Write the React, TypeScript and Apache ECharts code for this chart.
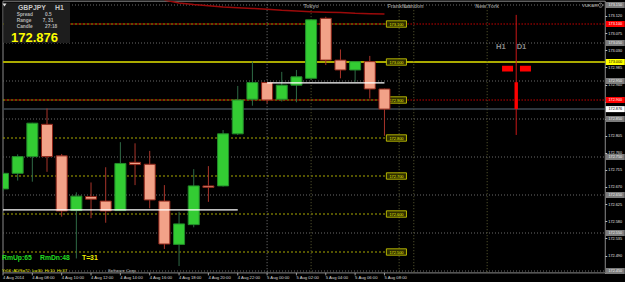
import React, { useEffect, useRef } from "react";
import * as echarts from "echarts";

const FONT = '"Liberation Sans", Arial, sans-serif';

// ---- data ----
const times = [
  "4 Aug 06:00", "4 Aug 07:00", "4 Aug 08:00", "4 Aug 09:00", "4 Aug 10:00", "4 Aug 11:00",
  "4 Aug 12:00", "4 Aug 13:00", "4 Aug 14:00", "4 Aug 15:00", "4 Aug 16:00", "4 Aug 17:00",
  "4 Aug 18:00", "4 Aug 19:00", "4 Aug 20:00", "4 Aug 21:00", "4 Aug 22:00", "4 Aug 23:00",
  "5 Aug 00:00", "5 Aug 01:00", "5 Aug 02:00", "5 Aug 03:00", "5 Aug 04:00", "5 Aug 05:00",
  "5 Aug 06:00", "5 Aug 07:00", "5 Aug 08:00",
];
const xTickLabels = [
  "4 Aug 2014", "4 Aug 08:00", "4 Aug 10:00", "4 Aug 12:00", "4 Aug 14:00", "4 Aug 16:00",
  "4 Aug 18:00", "4 Aug 20:00", "4 Aug 22:00", "5 Aug 00:00", "5 Aug 02:00", "5 Aug 04:00",
  "5 Aug 06:00", "5 Aug 08:00",
];
const opens = [
  172.666, 172.707, 172.751, 172.836, 172.753, 172.609, 172.646, 172.634, 172.609, 172.736,
  172.731, 172.634, 172.52, 172.572, 172.674, 172.674, 172.811, 172.902, 172.946, 172.902,
  172.939, 172.957, 173.115, 173.005, 172.979, 173.001, 172.929,
];
const closes = [
  172.707, 172.751, 172.839, 172.751, 172.608, 172.647, 172.639, 172.608, 172.733, 172.73,
  172.637, 172.521, 172.574, 172.674, 172.672, 172.811, 172.9, 172.946, 172.9, 172.939,
  172.961, 173.111, 173.005, 172.979, 173.001, 172.929, 172.876,
];
const highs = [
  172.71, 172.757, 172.84, 172.878, 172.758, 172.657, 172.683, 172.723, 172.789, 172.786,
  172.766, 172.676, 172.606, 172.718, 172.726, 172.821, 172.937, 173.001, 172.947, 172.974,
  172.979, 173.112, 173.119, 173.033, 173.002, 173.016, 172.93,
];
const lows = [
  172.66, 172.688, 172.685, 172.711, 172.593, 172.483, 172.589, 172.577, 172.608, 172.676,
  172.615, 172.508, 172.463, 172.565, 172.632, 172.672, 172.808, 172.885, 172.891, 172.896,
  172.894, 172.953, 172.992, 172.957, 172.948, 172.904, 172.806,
];
const maIndex = [11, 12, 13, 14, 15, 16, 17, 18, 19, 20, 21, 22, 23, 24, 25, 26];
const maValues = [
  173.163, 173.155, 173.151, 173.148, 173.145, 173.143, 173.141, 173.139, 173.136, 173.134,
  173.132, 173.131, 173.13, 173.128, 173.127, 173.126,
];
const gridLevels = [173.15, 173.05, 172.95, 172.85, 172.75, 172.65, 172.55, 172.45];
const roundLevels = [173.1, 173.0, 172.9, 172.8, 172.7, 172.6, 172.5];
const redLevels = [173.1, 172.9];
const keyLevel = 173.0;
const bidPrice = 172.876;
const rangeFrom = [0, 18];
const rangeTo = [16, 26];
const rangePrice = [172.611, 172.945];
const sessionNames = ["Tokyo", "Frankfurt", "London", "New York"];
const sessionIndex = [21, 27, 28, 33];
const daySeparator = 18;
const tfLabels = ["H1", "D1"];
const tfLabelIndex = [33.93, 35.34];
const tfLabelPrice = 173.04;
const tfBoxIndex = [34.39, 35.61];
const tfBoxTop = [172.99, 172.99];
const tfBoxBottom = [172.975, 172.975];
const tfLine = [34.98, 173.124, 172.808];
const tfBar = [34.98, 172.947, 172.876];

const yMin = 172.445;
const yMax = 173.16;
const axisStep = 0.045;
const xMax = 41.05;
const labelEvery = 2;
const roundBoxFrom = 26.13;
const roundBoxTo = 27.5;

function buildOption() {
  const candles = times.map((_, i) => [i, opens[i], closes[i], lows[i], highs[i]]);
  const rightBox = (right: number, y: number, text: string, fill: string, color: string) => [
    { type: "rect", shape: { x: right + 0.5, y: y - 3, width: 19, height: 6 }, style: { fill } },
    {
      type: "text",
      x: right + 10,
      y: y + 0.2,
      style: { text, fill: color, fontSize: 3.8, fontFamily: FONT, align: "center", verticalAlign: "middle" },
    },
  ];

  const txt = (x: number, y: number, text: string, size: number, color: string, weight = "bold", align = "left") => ({
    type: "text",
    x,
    y,
    z: 20,
    style: { text, fill: color, fontSize: size, fontWeight: weight, fontFamily: FONT, align, verticalAlign: "middle" },
  });

  return {
    animation: false,
    backgroundColor: "#000000",
    grid: {
      left: 1.3,
      right: 19.5,
      top: 1.2,
      bottom: 9.1,
      show: true,
      borderColor: "#8a8a8a",
      borderWidth: 1,
      backgroundColor: "transparent",
      containLabel: false,
    },
    xAxis: {
      type: "value",
      min: 0,
      max: xMax,
      interval: labelEvery,
      axisLine: { show: false },
      axisTick: { show: false },
      splitLine: { show: false },
      axisLabel: {
        formatter: (v: number) => xTickLabels[Math.round(v / labelEvery)] ?? "",
        align: "left",
        fontSize: 4.2,
        color: "#d8d8d8",
        fontFamily: FONT,
        margin: 2.5,
        showMaxLabel: false,
      },
    },
    yAxis: [
      { type: "value", min: yMin, max: yMax, show: false, scale: true },
      {
        type: "value",
        min: 0,
        max: yMax - yMin,
        interval: axisStep,
        position: "right",
        axisLine: { show: false },
        axisTick: { show: true, length: 2, lineStyle: { color: "#bbbbbb" } },
        splitLine: { show: false },
        axisLabel: {
          formatter: (v: number) => (yMin + v).toFixed(3),
          fontSize: 3.8,
          color: "#e4e4e4",
          margin: 3,
          fontFamily: FONT,
          showMaxLabel: false,
        },
      },
    ],
    graphic: [
      { type: "rect", x: 3.5, y: 2.5, z: 15, shape: { width: 66.5, height: 40.5 }, style: { fill: "#1d1d1d" } },
      { type: "polygon", z: 20, shape: { points: [[2.5, 3.5], [6.5, 3.5], [4.5, 6.5]] }, style: { fill: "#e0e0e0" } },
      txt(18, 7.8, "GBPJPY", 6.9, "#c8c8c8"),
      txt(55, 7.8, "H1", 6.9, "#c8c8c8"),
      txt(16.7, 14.3, "Spread", 4.8, "#b4b4b4"),
      txt(45, 14.3, "0.5", 4.8, "#b4b4b4"),
      txt(16.7, 20.3, "Range", 4.8, "#b4b4b4"),
      txt(42.7, 20.3, "7, 31", 4.8, "#b4b4b4"),
      txt(16.7, 26.3, "Candle", 4.8, "#b4b4b4"),
      txt(45, 26.3, "27:18", 4.8, "#b4b4b4"),
      txt(11, 37.2, "172.876", 13, "#ffff00"),
      txt(582, 5.2, "VUKAR", 4.4, "#9a9a9a"),
      { type: "circle", z: 20, shape: { cx: 600.5, cy: 5.2, r: 2 }, style: { fill: "none", stroke: "#aaaaaa", lineWidth: 0.8 } },
      txt(2, 257.3, "RmUp:65", 6.8, "#22dd22"),
      txt(40, 257.3, "RmDn:48", 6.8, "#22dd22"),
      txt(82, 257.3, "T=31", 6.8, "#f0f000"),
      txt(2, 270, "Yr56  ADR=72  Lw30  Hi:10  Hi:37", 4.3, "#e8e800", "normal"),
      txt(108, 270, "Software Corp.", 4.3, "#c0c0c0", "normal"),
    ],
    series: [
      {
        name: "gridLevels",
        type: "custom",
        coordinateSystem: "cartesian2d",
        z: 1,
        clip: false,
        encode: { x: 0, y: 1 },
        data: gridLevels.map((p) => [0, p]),
        renderItem: (params: any, api: any) => {
          const cs = params.coordSys;
          const p = api.value(1);
          const y = api.coord([0, p])[1];
          const right = cs.x + cs.width;
          return {
            type: "group",
            children: [
              { type: "line", shape: { x1: cs.x, y1: y, x2: right, y2: y }, style: { stroke: "#6a6a6a", lineWidth: 1, lineDash: [1, 2] } },
              ...rightBox(right, y, p.toFixed(3), "#7c7c7c", "#f2f2f2"),
            ],
          };
        },
      },
      {
        name: "redLevels",
        type: "custom",
        coordinateSystem: "cartesian2d",
        z: 1,
        clip: false,
        encode: { x: 0, y: 1 },
        data: redLevels.map((p) => [0, p]),
        renderItem: (params: any, api: any) => {
          const cs = params.coordSys;
          const p = api.value(1);
          const y = api.coord([0, p])[1];
          const right = cs.x + cs.width;
          const xa = api.coord([roundBoxFrom, p])[0];
          const xb = api.coord([roundBoxTo, p])[0];
          return {
            type: "group",
            children: [
              { type: "line", shape: { x1: cs.x, y1: y, x2: xa, y2: y }, style: { stroke: "#d00000", lineWidth: 1, lineDash: [2, 2], lineDashOffset: 2 } },
              { type: "line", shape: { x1: xb + 1, y1: y, x2: right, y2: y }, style: { stroke: "#c80000", lineWidth: 1, lineDash: [1.5, 1.5] } },
              ...rightBox(right, y, p.toFixed(3), "#ff0000", "#ffffff"),
            ],
          };
        },
      },
      {
        name: "roundLevels",
        type: "custom",
        coordinateSystem: "cartesian2d",
        z: 1,
        clip: false,
        encode: { x: 0, y: 1 },
        data: roundLevels.map((p) => [0, p]),
        renderItem: (params: any, api: any) => {
          const cs = params.coordSys;
          const p = api.value(1);
          const y = api.coord([0, p])[1];
          const xa = api.coord([roundBoxFrom, p])[0];
          const xb = api.coord([roundBoxTo, p])[0];
          return {
            type: "group",
            children: [
              { type: "line", shape: { x1: cs.x, y1: y, x2: xa, y2: y }, style: { stroke: "#a8a800", lineWidth: 1, lineDash: [2, 2] } },
              { type: "rect", z2: 5, shape: { x: xa, y: y - 3.2, width: xb - xa, height: 6.4 }, style: { fill: "#2e2e00", stroke: "#d8d800", lineWidth: 0.8 } },
              {
                type: "text",
                z2: 6,
                x: (xa + xb) / 2,
                y: y + 0.2,
                style: { text: p.toFixed(3), fill: "#e8e800", fontSize: 3.9, fontFamily: FONT, align: "center", verticalAlign: "middle" },
              },
            ],
          };
        },
      },
      {
        name: "keyLevels",
        type: "custom",
        coordinateSystem: "cartesian2d",
        z: 1,
        clip: false,
        encode: { x: 0, y: 1 },
        data: [
          [0, keyLevel, 0],
          [0, bidPrice, 1],
        ],
        renderItem: (params: any, api: any) => {
          const cs = params.coordSys;
          const p = api.value(1);
          const kind = api.value(2);
          const y = api.coord([0, p])[1];
          const right = cs.x + cs.width;
          const line =
            kind === 0
              ? { type: "line", shape: { x1: cs.x, y1: y, x2: right, y2: y }, style: { stroke: "#aaaa00", lineWidth: 2 } }
              : { type: "line", shape: { x1: cs.x, y1: y, x2: right, y2: y }, style: { stroke: "#3e4852", lineWidth: 1.5 } };
          return {
            type: "group",
            children: [line, ...rightBox(right, y, p.toFixed(3), kind === 0 ? "#ffff00" : "#ffffff", "#000000")],
          };
        },
      },
      {
        name: "sessions",
        type: "custom",
        coordinateSystem: "cartesian2d",
        z: 1,
        clip: false,
        encode: { x: 0, y: 1 },
        data: [...sessionIndex.map((idx, k) => [idx, yMax, k]), [daySeparator, yMax, -1]],
        renderItem: (params: any, api: any) => {
          const cs = params.coordSys;
          const idx = api.value(0);
          const k = api.value(2);
          const x = api.coord([idx, yMax])[0];
          const children: any[] = [
            {
              type: "line",
              shape: { x1: x, y1: cs.y, x2: x, y2: cs.y + cs.height },
              style: { stroke: k < 0 ? "#7a7a7a" : "#5e5e34", lineWidth: 1, lineDash: [1, 2] },
            },
          ];
          if (k >= 0) {
            children.push({
              type: "text",
              x,
              y: cs.y + 5,
              z2: 10,
              style: { text: sessionNames[k], fill: "#8c8c8c", fontSize: 5.3, fontWeight: "bold", fontFamily: FONT, align: "center", verticalAlign: "middle" },
            });
          }
          return { type: "group", children };
        },
      },
      {
        name: "ticks",
        type: "custom",
        coordinateSystem: "cartesian2d",
        z: 1,
        clip: false,
        encode: { x: 0, y: 1 },
        data: xTickLabels.map((_, k) => [k * labelEvery, yMin]),
        renderItem: (params: any, api: any) => {
          const p = api.coord([api.value(0), yMin]);
          return { type: "line", shape: { x1: p[0], y1: p[1], x2: p[0], y2: p[1] + 2.5 }, style: { stroke: "#bbbbbb", lineWidth: 0.8 } };
        },
      },
      {
        name: "MA",
        type: "line",
        z: 3,
        showSymbol: false,
        clip: true,
        data: maIndex.map((i, k) => [i, maValues[k]]),
        lineStyle: { color: "#9c0a0a", width: 1.5 },
      },
      {
        name: "GBPJPY H1",
        type: "custom",
        coordinateSystem: "cartesian2d",
        z: 3,
        clip: true,
        encode: { x: 0, y: [1, 2, 3, 4] },
        data: candles,
        renderItem: (params: any, api: any) => {
          const i = api.value(0);
          const o = api.value(1);
          const c = api.value(2);
          const l = api.value(3);
          const h = api.value(4);
          const pO = api.coord([i, o]);
          const x = pO[0];
          const yC = api.coord([i, c])[1];
          const yL = api.coord([i, l])[1];
          const yH = api.coord([i, h])[1];
          const w = api.size([1, 0])[0] * 0.75;
          const up = c >= o;
          const top = Math.min(pO[1], yC);
          const bot = Math.max(pO[1], yC);
          const hgt = Math.max(bot - top, 1.5);
          return {
            type: "group",
            children: [
              { type: "line", shape: { x1: x, y1: yH, x2: x, y2: yL }, style: { stroke: up ? "#2f6b46" : "#a8342a", lineWidth: 1 } },
              {
                type: "rect",
                shape: { x: x - w / 2, y: top, width: w, height: hgt },
                style: { fill: up ? "#33cc33" : "#f2a288", stroke: up ? "#238a2a" : "#8e2418", lineWidth: 1 },
              },
            ],
          };
        },
      },
      {
        name: "ranges",
        type: "custom",
        coordinateSystem: "cartesian2d",
        z: 4,
        clip: true,
        encode: { x: [0, 1], y: 2 },
        data: rangeFrom.map((f, k) => [f, rangeTo[k], rangePrice[k]]),
        renderItem: (params: any, api: any) => {
          const a = api.coord([api.value(0), api.value(2)]);
          const b = api.coord([api.value(1), api.value(2)]);
          return { type: "line", shape: { x1: a[0], y1: a[1], x2: b[0], y2: b[1] }, style: { stroke: "#ffffff", lineWidth: 1.3 } };
        },
      },
      {
        name: "tfMarks",
        type: "custom",
        coordinateSystem: "cartesian2d",
        z: 3,
        clip: true,
        encode: { x: 0, y: [1, 2] },
        data: [
          [tfLine[0], tfLine[1], tfLine[2], 0],
          ...tfBoxIndex.map((idx, k) => [idx, tfBoxTop[k], tfBoxBottom[k], 1]),
          [tfBar[0], tfBar[1], tfBar[2], 2],
        ],
        renderItem: (params: any, api: any) => {
          const kind = api.value(3);
          const a = api.coord([api.value(0), api.value(1)]);
          const b = api.coord([api.value(0), api.value(2)]);
          if (kind === 0) {
            return { type: "line", shape: { x1: a[0], y1: a[1], x2: b[0], y2: b[1] }, style: { stroke: "#c81818", lineWidth: 1 } };
          }
          const w = kind === 1 ? 11 : 3.4;
          return { type: "rect", shape: { x: a[0] - w / 2, y: a[1], width: w, height: b[1] - a[1] }, style: { fill: "#ff0000" } };
        },
      },
      {
        name: "tfLabels",
        type: "custom",
        coordinateSystem: "cartesian2d",
        z: 3,
        clip: false,
        encode: { x: 0, y: 1 },
        data: tfLabelIndex.map((idx, k) => [idx, tfLabelPrice, k]),
        renderItem: (params: any, api: any) => {
          const p = api.coord([api.value(0), api.value(1)]);
          return {
            type: "text",
            x: p[0],
            y: p[1],
            style: { text: tfLabels[api.value(2)], fill: "#8a8a8a", fontSize: 7.6, fontWeight: "bold", fontFamily: FONT, align: "center", verticalAlign: "middle" },
          };
        },
      },
    ],
  };
}

export default function App() {
  const ref = useRef<HTMLDivElement>(null);
  useEffect(() => {
    document.body.style.margin = "0";
    const chart = echarts.init(ref.current!, null, { renderer: "svg" });
    chart.setOption(buildOption() as any);
    return () => chart.dispose();
  }, []);
  return (
    <div
      ref={ref}
      style={{ position: "fixed", left: 0, top: 0, width: 625, height: 282, background: "#000" }}
    />
  );
}
